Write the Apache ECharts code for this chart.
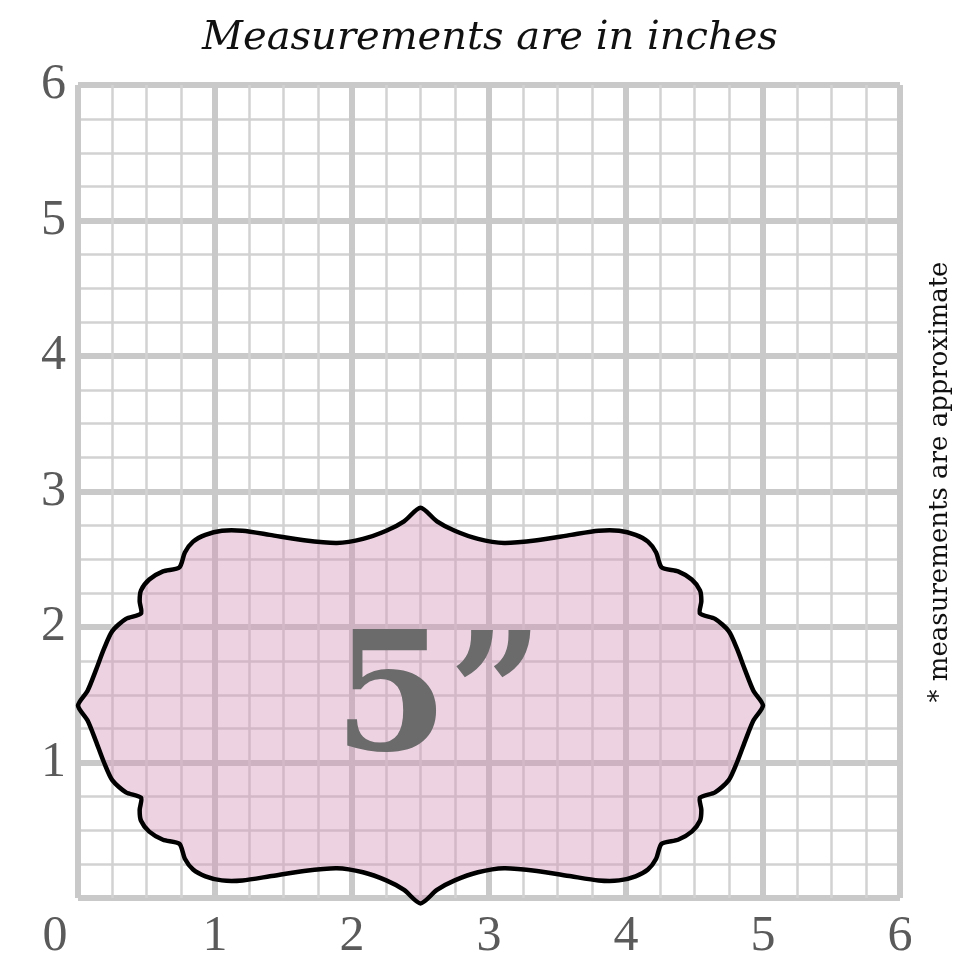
<!DOCTYPE html>
<html><head><meta charset="utf-8">
<script src="https://cdn.jsdelivr.net/npm/echarts@6/dist/echarts.min.js"></script>
<style>html,body{margin:0;padding:0;background:#fff}#c{width:980px;height:980px}</style>
</head><body><div id="c"></div>
<script>
const titleText = 'Measurements are in inches';
const noteText = '* measurements are approximate';
const sizeLabel = '5\u201d';
const tickValues = [0,1,2,3,4,5,6];
const plaqueCenter = [2.5, 1.42];
// one quarter of the plaque outline (offsets from centre, inches), top point to left point
const quarterOutline = [
 [0.0,1.46],[-0.12,1.36],[-0.25,1.29],[-0.42,1.23],[-0.61,1.20],[-0.85,1.22],[-1.1,1.26],
 [-1.3,1.29],[-1.45,1.29],[-1.57,1.26],[-1.66,1.21],[-1.72,1.13],[-1.76,1.02],
 [-1.88,0.99],[-1.98,0.93],[-2.04,0.85],[-2.05,0.77],[-2.04,0.68],
 [-2.15,0.64],[-2.25,0.55],[-2.31,0.42],[-2.37,0.26],[-2.43,0.11],[-2.5,0]
];
const upper = quarterOutline.map(p=>[p[0],p[1]]);
const left = quarterOutline.slice().reverse().slice(1).map(p=>[p[0],-p[1]]);
const lower = quarterOutline.slice(1).map(p=>[-p[0],-p[1]]);
const right = quarterOutline.slice().reverse().slice(1,-1).map(p=>[-p[0],p[1]]);
const outline = upper.concat(left, lower, right).map(p=>[plaqueCenter[0]+p[0], plaqueCenter[1]+p[1]]);

const labelFont = {fontFamily:'Liberation Serif', fontSize:50, color:'#5a5a5a'};
const chart = echarts.init(document.getElementById('c'));
chart.setOption({
  animation:false,
  title:{text:titleText, left:'center', top:14, textStyle:{fontFamily:'DejaVu Serif', fontStyle:'italic', fontSize:40, fontWeight:'normal', color:'#111'}},
  grid:{left:78, right:80, top:85, bottom:82},
  xAxis:{type:'value', min:0, max:6, interval:1,
    axisLine:{show:false}, axisTick:{show:false},
    axisLabel:Object.assign({margin:14, formatter:v=> v===0 ? '{z|0}' : String(v),
      rich:{z:Object.assign({padding:[0,46,0,0]}, labelFont)}}, labelFont),
    splitLine:{lineStyle:{color:'#c9c9c9', width:6}},
    minorTick:{show:false, splitNumber:4},
    minorSplitLine:{show:true, lineStyle:{color:'#d2d2d2', width:2.5}}},
  yAxis:{type:'value', min:0, max:6, interval:1,
    axisLine:{show:false}, axisTick:{show:false},
    axisLabel:Object.assign({margin:12, formatter:v=> v===0 ? '' : String(v)}, labelFont),
    splitLine:{lineStyle:{color:'#c9c9c9', width:6}},
    minorTick:{show:false, splitNumber:4},
    minorSplitLine:{show:true, lineStyle:{color:'#d2d2d2', width:2.5}}},
  graphic:[{type:'text', x:940, y:482, rotation:Math.PI/2, style:{text:noteText, fontFamily:'DejaVu Serif', fontSize:26, fill:'#111', align:'center', verticalAlign:'middle'}}],
  series:[{
    type:'custom', coordinateSystem:'cartesian2d', data:[[0,0]],
    renderItem:function(params, api){
      const pts = outline.map(p=>api.coord(p));
      const c = api.coord(plaqueCenter);
      return {type:'group', children:[
        {type:'polygon', shape:{points:pts, smooth:0.25},
          style:{fill:'rgba(212,150,185,0.42)', stroke:'#000', lineWidth:4.5, lineJoin:'round'}},
        {type:'text', x:c[0]+18, y:c[1]+2, style:{text:sizeLabel, fontFamily:'DejaVu Serif', fontWeight:'bold', fontSize:165, fill:'#6b6b6b', align:'center', verticalAlign:'middle'}}
      ]};
    }
  }]
});
</script></body></html>
